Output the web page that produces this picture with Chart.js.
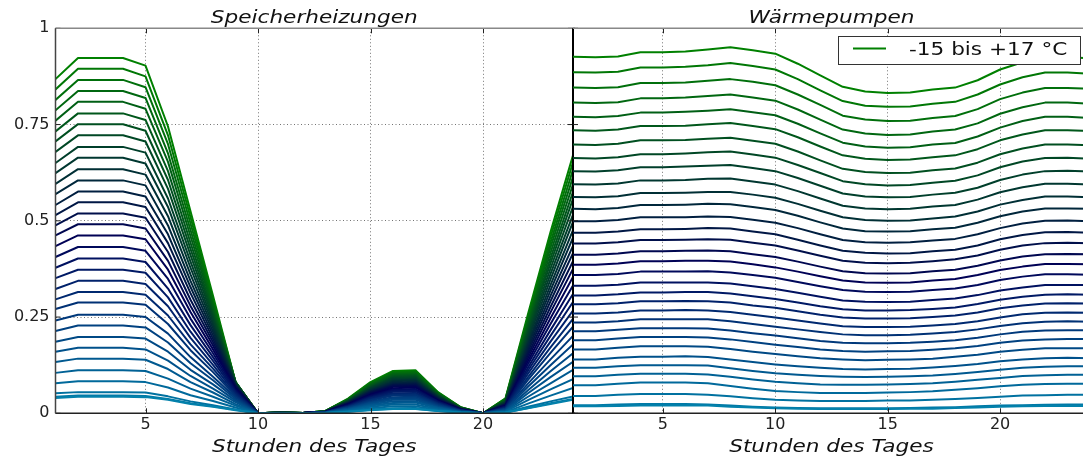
<!DOCTYPE html>
<html><head><meta charset="utf-8">
<script src="https://cdn.jsdelivr.net/npm/chart.js@4/dist/chart.umd.min.js"></script>
<style>
html,body{margin:0;padding:0;background:#fff;overflow:hidden;width:1083px;height:457px;}
#wrap{position:relative;width:1083px;height:457px;overflow:hidden;}
canvas{position:absolute;top:0;}
#c1{left:0;}
#c2{left:573px;}
</style></head><body>
<div id="wrap">
<canvas id="c1" width="576" height="457"></canvas>
<canvas id="c2" width="520" height="457"></canvas>
</div>
<script>
const hours = [1,2,3,4,5,6,7,8,9,10,11,12,13,14,15,16,17,18,19,20,21,22,23,24];
const xTicks = [5,10,15,20];
const yTicks = [0,0.25,0.5,0.75,1];
const yTickLabels = ['0','0.25','0.5','0.75','1'];
const temperatures = [-15,-14,-13,-12,-11,-10,-9,-8,-7,-6,-5,-4,-3,-2,-1,0,1,2,3,4,5,6,7,8,9,10,11,12,13,14,15,16,17];
const titleLeft = 'Speicherheizungen';
const titleRight = 'Wärmepumpen';
const xAxisTitle = 'Stunden des Tages';
const legendLabel = '-15 bis +17 °C';

// Speicherheizungen: one row per outdoor temperature (-15 ... +17 °C), 24 hourly values
const speicherheizungen = [
[0.868,0.923,0.923,0.923,0.903,0.745,0.525,0.305,0.081,0,0.002,0.001,0.006,0.038,0.081,0.110,0.112,0.055,0.016,0,0.039,0.258,0.471,0.670],
[0.841,0.895,0.895,0.895,0.875,0.722,0.509,0.297,0.081,0,0.002,0.001,0.006,0.037,0.079,0.107,0.109,0.054,0.016,0,0.038,0.251,0.458,0.652],
[0.814,0.866,0.866,0.866,0.847,0.699,0.493,0.289,0.081,0,0.002,0.001,0.006,0.036,0.077,0.105,0.107,0.052,0.015,0,0.036,0.244,0.444,0.633],
[0.787,0.837,0.837,0.837,0.819,0.675,0.476,0.281,0.081,0,0.002,0.001,0.006,0.035,0.075,0.102,0.104,0.051,0.015,0,0.035,0.237,0.431,0.614],
[0.760,0.809,0.809,0.809,0.791,0.653,0.460,0.273,0.081,0,0.002,0.001,0.005,0.034,0.073,0.100,0.101,0.050,0.014,0,0.034,0.230,0.417,0.595],
[0.732,0.779,0.779,0.779,0.762,0.629,0.443,0.264,0.081,0,0.002,0.001,0.005,0.033,0.071,0.097,0.099,0.048,0.014,0,0.033,0.222,0.403,0.575],
[0.706,0.751,0.751,0.751,0.734,0.606,0.427,0.256,0.080,0,0.002,0.001,0.005,0.033,0.069,0.094,0.096,0.047,0.014,0,0.032,0.215,0.390,0.557],
[0.679,0.722,0.722,0.722,0.706,0.583,0.411,0.248,0.079,0,0.002,0.001,0.005,0.032,0.067,0.092,0.093,0.046,0.013,0,0.030,0.207,0.376,0.537],
[0.650,0.692,0.692,0.692,0.677,0.558,0.394,0.239,0.078,0,0.002,0.001,0.005,0.031,0.065,0.089,0.090,0.044,0.013,0,0.029,0.199,0.362,0.516],
[0.624,0.664,0.664,0.664,0.649,0.536,0.378,0.230,0.077,0,0.002,0.001,0.005,0.030,0.063,0.086,0.087,0.043,0.012,0,0.028,0.191,0.348,0.497],
[0.596,0.634,0.634,0.634,0.620,0.512,0.361,0.221,0.075,0,0.002,0.001,0.005,0.029,0.061,0.083,0.085,0.042,0.012,0,0.027,0.183,0.333,0.476],
[0.569,0.605,0.605,0.605,0.592,0.488,0.344,0.212,0.074,0,0.001,0.001,0.004,0.028,0.059,0.080,0.082,0.040,0.012,0,0.025,0.176,0.319,0.456],
[0.541,0.576,0.576,0.576,0.563,0.465,0.328,0.203,0.072,0,0.001,0.001,0.004,0.027,0.057,0.077,0.079,0.039,0.011,0,0.024,0.168,0.305,0.435],
[0.515,0.548,0.548,0.548,0.536,0.442,0.312,0.194,0.071,0,0.001,0.001,0.004,0.026,0.055,0.074,0.076,0.037,0.011,0,0.023,0.160,0.291,0.416],
[0.488,0.519,0.519,0.519,0.508,0.419,0.295,0.185,0.069,0,0.001,0.001,0.004,0.025,0.053,0.072,0.073,0.036,0.010,0,0.022,0.152,0.276,0.395],
[0.462,0.491,0.491,0.491,0.480,0.396,0.279,0.176,0.066,0,0.001,0.001,0.004,0.024,0.050,0.069,0.070,0.034,0.010,0,0.021,0.144,0.262,0.375],
[0.434,0.462,0.462,0.462,0.452,0.373,0.263,0.166,0.064,0,0.001,0.001,0.004,0.023,0.048,0.065,0.067,0.033,0.010,0,0.019,0.136,0.247,0.354],
[0.406,0.432,0.432,0.432,0.422,0.349,0.246,0.156,0.061,0,0.001,0.001,0.003,0.022,0.046,0.062,0.063,0.031,0.009,0,0.018,0.128,0.232,0.332],
[0.378,0.402,0.402,0.402,0.393,0.324,0.229,0.146,0.058,0,0.001,0.001,0.003,0.020,0.043,0.059,0.060,0.030,0.009,0,0.017,0.119,0.216,0.310],
[0.351,0.373,0.373,0.373,0.365,0.301,0.212,0.136,0.055,0,0.001,0.001,0.003,0.019,0.041,0.056,0.057,0.028,0.008,0,0.016,0.111,0.201,0.289],
[0.323,0.344,0.344,0.344,0.336,0.278,0.196,0.126,0.052,0,0.001,0,0.003,0.018,0.039,0.052,0.053,0.026,0.008,0,0.014,0.103,0.186,0.267],
[0.296,0.315,0.315,0.315,0.308,0.254,0.179,0.116,0.048,0,0.001,0,0.003,0.017,0.036,0.049,0.050,0.025,0.007,0,0.013,0.094,0.171,0.245],
[0.271,0.288,0.288,0.288,0.282,0.232,0.164,0.107,0.045,0,0.001,0,0.003,0.016,0.034,0.046,0.047,0.023,0.007,0,0.012,0.087,0.157,0.225],
[0.241,0.256,0.256,0.256,0.250,0.207,0.146,0.095,0.041,0,0.001,0,0.002,0.015,0.031,0.042,0.043,0.021,0.006,0,0.011,0.077,0.140,0.201],
[0.214,0.228,0.228,0.228,0.223,0.184,0.130,0.086,0.037,0,0.001,0,0.002,0.013,0.028,0.039,0.039,0.019,0.006,0,0.010,0.069,0.125,0.179],
[0.186,0.198,0.198,0.198,0.194,0.160,0.113,0.075,0.033,0,0.001,0,0.002,0.012,0.026,0.035,0.035,0.017,0.005,0,0.008,0.060,0.109,0.156],
[0.160,0.170,0.170,0.170,0.166,0.137,0.097,0.064,0.029,0,0.001,0,0.002,0.011,0.023,0.031,0.031,0.015,0.004,0,0.007,0.052,0.094,0.134],
[0.133,0.142,0.142,0.142,0.139,0.115,0.081,0.054,0.024,0,0,0,0.001,0.009,0.020,0.027,0.028,0.014,0.004,0,0.006,0.043,0.078,0.113],
[0.105,0.112,0.112,0.112,0.110,0.090,0.064,0.043,0.020,0,0,0,0.001,0.008,0.017,0.023,0.023,0.011,0.003,0,0.005,0.034,0.062,0.089],
[0.078,0.083,0.083,0.083,0.081,0.067,0.047,0.032,0.015,0,0,0,0.001,0.006,0.013,0.018,0.018,0.009,0.003,0,0.003,0.025,0.046,0.066],
[0.052,0.055,0.055,0.055,0.054,0.044,0.031,0.021,0.010,0,0,0,0.001,0.005,0.010,0.013,0.014,0.007,0.002,0,0.002,0.017,0.031,0.044],
[0.043,0.046,0.046,0.046,0.045,0.037,0.026,0.018,0.009,0,0,0,0.001,0.004,0.009,0.012,0.012,0.006,0.002,0,0.002,0.014,0.026,0.037],
[0.040,0.043,0.043,0.043,0.042,0.035,0.024,0.017,0.008,0,0,0,0.001,0.004,0.008,0.011,0.011,0.006,0.002,0,0.002,0.013,0.024,0.035]
];

// Wärmepumpen: one row per outdoor temperature (-15 ... +17 °C), 24 hourly values
const waermepumpen = [
[0.926,0.925,0.927,0.938,0.938,0.940,0.945,0.951,0.943,0.934,0.908,0.878,0.848,0.836,0.832,0.833,0.841,0.846,0.865,0.893,0.912,0.925,0.925,0.922],
[0.886,0.885,0.887,0.898,0.898,0.900,0.904,0.910,0.902,0.893,0.868,0.839,0.811,0.799,0.796,0.797,0.804,0.809,0.828,0.854,0.873,0.885,0.885,0.882],
[0.846,0.845,0.847,0.858,0.858,0.859,0.864,0.868,0.861,0.852,0.828,0.801,0.773,0.763,0.759,0.760,0.767,0.772,0.790,0.816,0.833,0.845,0.845,0.843],
[0.807,0.806,0.808,0.818,0.818,0.820,0.824,0.828,0.820,0.812,0.789,0.763,0.737,0.727,0.723,0.724,0.732,0.737,0.753,0.778,0.795,0.807,0.807,0.804],
[0.770,0.769,0.772,0.781,0.781,0.783,0.786,0.790,0.782,0.774,0.752,0.727,0.703,0.693,0.690,0.691,0.698,0.702,0.719,0.742,0.759,0.770,0.770,0.767],
[0.735,0.734,0.737,0.746,0.746,0.747,0.751,0.754,0.746,0.738,0.717,0.693,0.670,0.661,0.658,0.659,0.665,0.670,0.686,0.709,0.724,0.735,0.735,0.733],
[0.698,0.697,0.700,0.709,0.709,0.710,0.713,0.716,0.708,0.700,0.680,0.657,0.635,0.627,0.624,0.625,0.631,0.636,0.651,0.673,0.688,0.698,0.698,0.696],
[0.663,0.662,0.665,0.673,0.673,0.675,0.678,0.680,0.672,0.664,0.645,0.624,0.603,0.595,0.592,0.593,0.599,0.604,0.618,0.639,0.654,0.663,0.664,0.661],
[0.629,0.628,0.631,0.639,0.639,0.641,0.643,0.645,0.637,0.629,0.611,0.591,0.571,0.563,0.561,0.562,0.568,0.573,0.586,0.606,0.620,0.629,0.630,0.628],
[0.595,0.594,0.597,0.605,0.605,0.606,0.609,0.610,0.602,0.594,0.577,0.558,0.539,0.532,0.530,0.531,0.537,0.541,0.555,0.574,0.587,0.596,0.596,0.594],
[0.562,0.561,0.564,0.572,0.572,0.573,0.575,0.575,0.568,0.560,0.544,0.526,0.509,0.502,0.500,0.501,0.506,0.511,0.524,0.542,0.554,0.563,0.563,0.561],
[0.531,0.530,0.533,0.541,0.541,0.542,0.544,0.543,0.536,0.528,0.513,0.496,0.480,0.473,0.472,0.473,0.478,0.482,0.495,0.512,0.524,0.532,0.532,0.531],
[0.499,0.499,0.502,0.509,0.509,0.509,0.511,0.510,0.503,0.495,0.481,0.465,0.450,0.444,0.443,0.444,0.449,0.453,0.465,0.481,0.493,0.500,0.501,0.499],
[0.469,0.469,0.472,0.478,0.478,0.479,0.481,0.480,0.472,0.465,0.451,0.436,0.422,0.417,0.415,0.416,0.421,0.425,0.436,0.452,0.463,0.470,0.471,0.469],
[0.441,0.441,0.444,0.450,0.450,0.451,0.452,0.451,0.443,0.436,0.423,0.409,0.396,0.391,0.390,0.391,0.395,0.400,0.410,0.425,0.436,0.442,0.443,0.442],
[0.412,0.412,0.415,0.421,0.421,0.422,0.423,0.421,0.413,0.406,0.394,0.381,0.369,0.364,0.363,0.364,0.369,0.373,0.383,0.397,0.407,0.413,0.414,0.413],
[0.386,0.386,0.389,0.395,0.395,0.396,0.396,0.394,0.387,0.379,0.368,0.356,0.345,0.340,0.339,0.340,0.345,0.349,0.359,0.372,0.381,0.388,0.388,0.387],
[0.359,0.359,0.362,0.368,0.368,0.368,0.369,0.366,0.359,0.352,0.341,0.330,0.320,0.316,0.315,0.316,0.320,0.324,0.333,0.346,0.355,0.361,0.361,0.360],
[0.331,0.331,0.334,0.340,0.340,0.340,0.340,0.337,0.330,0.323,0.313,0.303,0.293,0.290,0.289,0.290,0.294,0.298,0.307,0.319,0.327,0.333,0.333,0.333],
[0.306,0.306,0.309,0.314,0.314,0.315,0.315,0.311,0.304,0.297,0.288,0.278,0.270,0.267,0.267,0.268,0.271,0.275,0.284,0.295,0.303,0.308,0.309,0.308],
[0.283,0.283,0.286,0.291,0.291,0.292,0.291,0.288,0.280,0.274,0.265,0.256,0.249,0.246,0.246,0.247,0.250,0.254,0.262,0.273,0.280,0.285,0.286,0.285],
[0.259,0.259,0.262,0.267,0.267,0.268,0.267,0.263,0.256,0.249,0.241,0.233,0.226,0.224,0.224,0.225,0.228,0.232,0.239,0.249,0.257,0.261,0.262,0.261],
[0.236,0.236,0.239,0.244,0.244,0.244,0.244,0.239,0.232,0.225,0.218,0.211,0.205,0.203,0.203,0.204,0.207,0.211,0.218,0.227,0.234,0.238,0.239,0.238],
[0.213,0.213,0.217,0.221,0.221,0.221,0.220,0.215,0.208,0.202,0.195,0.188,0.183,0.182,0.182,0.183,0.186,0.190,0.196,0.205,0.212,0.215,0.216,0.216],
[0.190,0.190,0.194,0.198,0.198,0.198,0.197,0.192,0.185,0.178,0.172,0.166,0.162,0.160,0.161,0.162,0.165,0.169,0.175,0.183,0.189,0.192,0.193,0.193],
[0.166,0.166,0.170,0.174,0.174,0.174,0.173,0.167,0.160,0.154,0.148,0.143,0.140,0.138,0.139,0.140,0.142,0.147,0.152,0.160,0.165,0.169,0.169,0.169],
[0.140,0.140,0.144,0.147,0.147,0.148,0.146,0.140,0.133,0.127,0.122,0.118,0.115,0.114,0.115,0.116,0.119,0.123,0.128,0.135,0.140,0.143,0.144,0.143],
[0.118,0.118,0.122,0.125,0.125,0.125,0.124,0.117,0.110,0.104,0.100,0.097,0.095,0.094,0.095,0.096,0.098,0.102,0.107,0.113,0.118,0.121,0.122,0.122],
[0.096,0.096,0.100,0.103,0.103,0.103,0.101,0.095,0.088,0.082,0.078,0.075,0.074,0.074,0.075,0.076,0.078,0.082,0.087,0.092,0.097,0.099,0.100,0.100],
[0.073,0.073,0.077,0.080,0.080,0.080,0.078,0.071,0.064,0.058,0.055,0.053,0.053,0.053,0.054,0.055,0.057,0.061,0.065,0.070,0.074,0.076,0.077,0.077],
[0.045,0.045,0.048,0.050,0.050,0.050,0.048,0.044,0.039,0.035,0.033,0.032,0.032,0.032,0.033,0.033,0.035,0.037,0.040,0.043,0.046,0.047,0.048,0.048],
[0.021,0.021,0.023,0.024,0.024,0.024,0.023,0.020,0.017,0.015,0.014,0.013,0.013,0.013,0.013,0.014,0.015,0.016,0.018,0.020,0.021,0.022,0.023,0.023],
[0.018,0.018,0.019,0.020,0.020,0.020,0.020,0.017,0.015,0.013,0.012,0.011,0.011,0.011,0.011,0.012,0.012,0.014,0.015,0.017,0.018,0.019,0.019,0.019]
];

// ---- styling helpers ----
const FONT = '"DejaVu Sans", "Bitstream Vera Sans", sans-serif';
const TEXT_STRETCH = 1.2;
function ocean(t) {
  const r = Math.max(0, Math.min(1, 3 * t - 2));
  const g = Math.min(1, Math.abs((3 * t - 1) / 2));
  const b = t;
  return `rgb(${Math.round(r*255)},${Math.round(g*255)},${Math.round(b*255)})`;
}
const COLOR_MAX = 0.67;
function lineColor(i, n) { return ocean(COLOR_MAX * i / (n - 1)); }

function buildDatasets(rows) {
  return rows.map((row, i) => ({
    label: temperatures[i] + ' °C',
    data: row.map((v, j) => ({ x: hours[j], y: v })),
    borderColor: lineColor(i, rows.length),
    backgroundColor: lineColor(i, rows.length),
    borderWidth: 2,
    pointRadius: 0,
    tension: 0,
    fill: false,
    borderJoinStyle: 'round',
    order: rows.length - 1 - i
  }));
}

function stretchedText(ctx, text, x, y, font, align, color) {
  ctx.save();
  ctx.font = font;
  ctx.fillStyle = color || '#111';
  ctx.textAlign = align;
  ctx.textBaseline = 'alphabetic';
  ctx.translate(x, y);
  ctx.scale(TEXT_STRETCH, 1);
  ctx.fillText(text, 0, 0);
  ctx.restore();
}

const decorPlugin = {
  id: 'decor',
  afterDraw(chart, args, opts) {
    const ctx = chart.ctx;
    const a = chart.chartArea;
    const xs = chart.scales.x, ys = chart.scales.y;
    ctx.save();
    // inward tick marks
    ctx.strokeStyle = '#222';
    ctx.lineWidth = 1;
    ctx.beginPath();
    xTicks.forEach(v => {
      const px = Math.round(xs.getPixelForValue(v)) + 0.5;
      ctx.moveTo(px, a.bottom); ctx.lineTo(px, a.bottom - 5);
      ctx.moveTo(px, a.top); ctx.lineTo(px, a.top + 5);
    });
    yTicks.forEach(v => {
      const py = ys.getPixelForValue(v);
      ctx.moveTo(a.left, py); ctx.lineTo(a.left + 5, py);
      if (opts.rightSpine) { ctx.moveTo(a.right, py); ctx.lineTo(a.right - 5, py); }
    });
    ctx.stroke();
    // spines
    ctx.lineWidth = 1.5;
    ctx.strokeStyle = '#888';
    ctx.beginPath(); ctx.moveTo(a.left, a.top); ctx.lineTo(a.right + 2, a.top); ctx.stroke();
    ctx.strokeStyle = '#222';
    ctx.beginPath(); ctx.moveTo(a.left, a.bottom); ctx.lineTo(a.right + 2, a.bottom); ctx.stroke();
    if (opts.leftSpine) {
      ctx.strokeStyle = '#444';
      ctx.beginPath(); ctx.moveTo(a.left, a.top); ctx.lineTo(a.left, a.bottom); ctx.stroke();
    }
    if (opts.rightSpine) {
      ctx.strokeStyle = '#000';
      ctx.lineWidth = 2;
      ctx.beginPath(); ctx.moveTo(a.right, a.top); ctx.lineTo(a.right, a.bottom); ctx.stroke();
    }
    ctx.restore();
    // titles
    const cx = (a.left + a.right) / 2 + (opts.titleShift || 0);
    stretchedText(ctx, opts.title, cx, 23, 'italic 18px ' + FONT, 'center');
    stretchedText(ctx, xAxisTitle, cx, 451.5, 'italic 18px ' + FONT, 'center');
    // legend
    if (opts.legend) {
      const L = opts.legend;
      ctx.save();
      ctx.fillStyle = '#fff';
      ctx.strokeStyle = '#333';
      ctx.lineWidth = 1;
      ctx.fillRect(L.x, L.y, L.w, L.h);
      ctx.strokeRect(L.x + 0.5, L.y + 0.5, L.w, L.h);
      ctx.strokeStyle = lineColor(0, 33);
      ctx.lineWidth = 2;
      ctx.beginPath();
      ctx.moveTo(L.x + 15, L.y + 12.5); ctx.lineTo(L.x + 48, L.y + 12.5);
      ctx.stroke();
      ctx.restore();
      stretchedText(ctx, legendLabel, L.x + 71, L.y + 19, '18px ' + FONT, 'left');
    }
  }
};

function makeOptions(showY, decor, padRight) {
  return {
    responsive: false,
    animation: false,
    events: [],
    layout: { padding: { top: 28.3, right: padRight, left: 0, bottom: 0 } },
    plugins: {
      legend: { display: false },
      tooltip: { enabled: false },
      title: { display: false },
      decor: decor
    },
    scales: {
      x: {
        type: 'linear', min: 1, max: 24,
        afterBuildTicks: s => { s.ticks = xTicks.map(v => ({ value: v })); },
        afterFit: s => { s.height = 43.7; },
        grid: { color: 'rgba(0,0,0,0.55)', lineWidth: 1, drawTicks: false },
        border: { display: false, dash: [1, 2.5] },
        ticks: { font: { family: FONT, size: 16 }, color: '#222', padding: 2, maxRotation: 0, autoSkip: false }
      },
      y: {
        type: 'linear', min: 0, max: 1,
        display: showY,
        afterBuildTicks: s => { s.ticks = yTicks.map(v => ({ value: v })); },
        afterFit: s => { s.width = showY ? 55.5 : 0; },
        grid: { color: 'rgba(0,0,0,0.55)', lineWidth: 1, drawTicks: false },
        border: { display: false, dash: [1, 2.5] },
        ticks: {
          font: { family: FONT, size: 16 }, color: '#222', padding: 6,
          callback: v => yTickLabels[yTicks.indexOf(v)]
        }
      }
    }
  };
}

new Chart(document.getElementById('c1'), {
  type: 'line',
  data: { datasets: buildDatasets(speicherheizungen) },
  options: makeOptions(true, { title: titleLeft, leftSpine: true, rightSpine: true }, 3),
  plugins: [decorPlugin]
});

new Chart(document.getElementById('c2'), {
  type: 'line',
  data: { datasets: buildDatasets(waermepumpen) },
  options: makeOptions(false, {
    title: titleRight, leftSpine: false, rightSpine: false,
    legend: { x: 265, y: 36, w: 242, h: 28 }
  }, 3),
  plugins: [decorPlugin]
});
</script>
</body></html>
